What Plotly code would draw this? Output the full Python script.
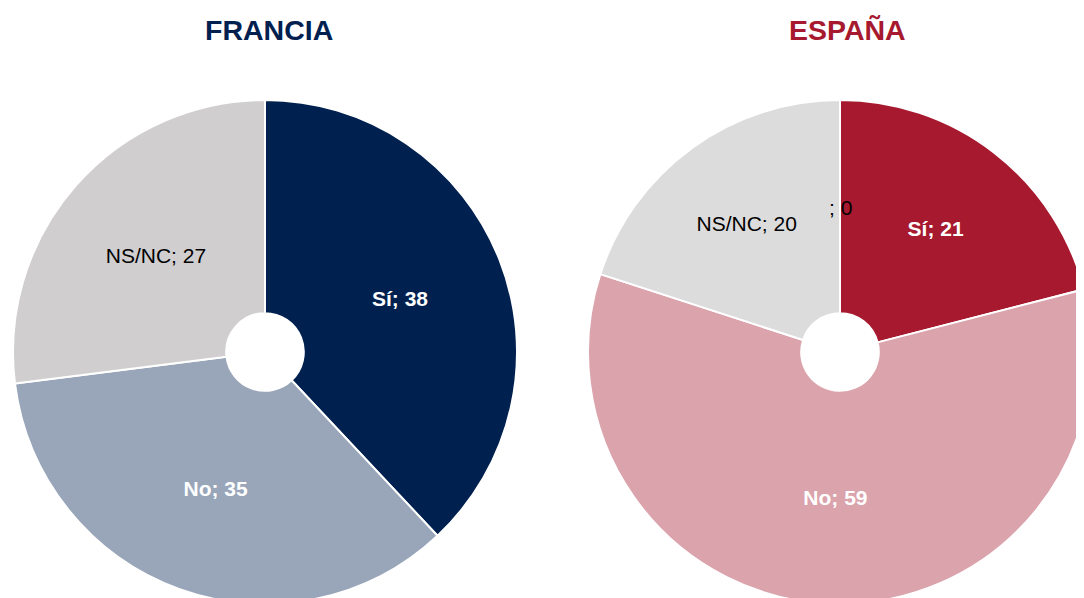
import plotly.graph_objects as go

fr_labels = ["Sí", "No", "NS/NC"]
fr_values = [38, 35, 27]
fr_colors = ["#00204F", "#99A6BA", "#D0CECF"]
fr_text_colors = ["white", "white", "black"]
fr_templates = ["<b>%{label}; %{value}</b>", "<b>%{label}; %{value}</b>", "%{label}; %{value}"]

es_labels = ["Sí", "No", "NS/NC", ""]
es_values = [21, 59, 20, 0]
es_colors = ["#A6192E", "#DBA3AC", "#DDDCDD", "#FFFFFF"]
es_text_colors = ["white", "white", "black", "black"]
es_templates = ["<b>%{label}; %{value}</b>", "<b>%{label}; %{value}</b>", "%{label}; %{value}", "; %{value}"]

titles = ["FRANCIA", "ESPAÑA"]
title_colors = ["#00204F", "#A6192E"]

W, H = 1084, 598
R = 252
CY = 344
CX_FR = 257
CX_ES = 832
FONT = "Liberation Sans, Arial, sans-serif"


def dom(cx):
    return dict(x=[(cx - R) / W, (cx + R) / W], y=[(H - CY - R) / H, (H - CY + R) / H])


fig = go.Figure()
fig.add_trace(go.Pie(
    labels=fr_labels, values=fr_values, sort=False, direction="clockwise", rotation=0,
    hole=0.154, marker=dict(colors=fr_colors, line=dict(color="white", width=2)),
    texttemplate=fr_templates, textposition="inside", insidetextorientation="horizontal",
    textfont=dict(family=FONT, size=21, color=fr_text_colors),
    domain=dom(CX_FR), showlegend=False, hoverinfo="label+value",
))
fig.add_trace(go.Pie(
    labels=es_labels, values=es_values, sort=False, direction="clockwise", rotation=0,
    hole=0.154, marker=dict(colors=es_colors, line=dict(color="white", width=2)),
    texttemplate=es_templates, textposition="inside", insidetextorientation="horizontal",
    textfont=dict(family=FONT, size=21, color=es_text_colors),
    domain=dom(CX_ES), showlegend=False, hoverinfo="label+value",
))

# label of the zero-value slice (Plotly does not draw text for empty slices)
fig.add_annotation(text="%s; %d" % (es_labels[3], es_values[3]), x=CX_ES / W,
                   y=1 - (CY - 0.573 * R) / H, xref="paper", yref="paper",
                   showarrow=False, xanchor="center", yanchor="middle",
                   font=dict(family=FONT, size=21, color="black"))

for t, c, x in zip(titles, title_colors, [260.5 / W, 839 / W]):
    fig.add_annotation(text="<b>%s</b>" % t, x=x, y=1 - 22 / H, xref="paper", yref="paper",
                       showarrow=False, xanchor="center", yanchor="middle",
                       font=dict(family=FONT, size=28.5, color=c))

fig.update_layout(width=W, height=H, margin=dict(l=0, r=0, t=0, b=0),
                  paper_bgcolor="white", plot_bgcolor="white")
fig.write_html("out.html")
